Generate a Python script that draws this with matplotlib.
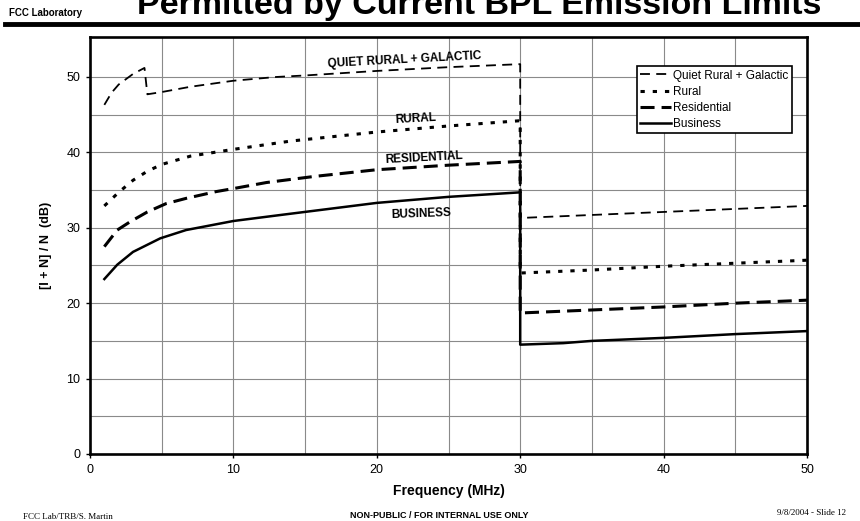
import matplotlib
matplotlib.use("Agg")
import matplotlib.pyplot as plt
from matplotlib.lines import Line2D

plt.rcParams['font.family'] = ['Liberation Sans', 'DejaVu Sans']

# values (frequency in MHz, [I+N]/N in dB)
quiet_f = [1, 1.5, 2, 3, 3.8, 4, 5, 7, 10, 13, 15, 20, 25, 30, 30, 35, 40, 45, 50]
quiet_db = [46.3, 47.9, 49.0, 50.4, 51.2, 47.7, 48.0, 48.7, 49.5, 50.0, 50.2, 50.8, 51.3, 51.7,
            31.3, 31.7, 32.1, 32.5, 32.9]

rural_f = [1, 2, 3, 4, 5, 7, 10, 14, 20, 25, 30, 30, 35, 40, 45, 50]
rural_db = [32.9, 34.7, 36.3, 37.5, 38.4, 39.5, 40.4, 41.5, 42.7, 43.5, 44.2,
            24.0, 24.4, 24.9, 25.3, 25.7]

resid_f = [1, 1.9, 2.8, 4, 5.3, 6.7, 8.8, 10, 12.3, 15.6, 20, 25, 30, 30, 35, 40, 45, 50]
resid_db = [27.5, 29.7, 30.8, 32.1, 33.2, 33.9, 34.8, 35.2, 36.0, 36.8, 37.7, 38.3, 38.8,
            18.7, 19.1, 19.5, 20.0, 20.4]

bus_f = [1, 1.9, 3, 4.9, 6.7, 10, 13.3, 20, 25, 30, 30, 33, 35, 40, 45, 50]
bus_db = [23.2, 25.1, 26.8, 28.6, 29.7, 30.9, 31.7, 33.3, 34.1, 34.7,
          14.5, 14.7, 15.0, 15.4, 15.9, 16.3]

series_names = ["Quiet Rural + Galactic", "Rural", "Residential", "Business"]
curve_labels = ["QUIET RURAL + GALACTIC", "RURAL", "RESIDENTIAL", "BUSINESS"]

fig = plt.figure(figsize=(8.6, 5.21), dpi=100)
ax = fig.add_axes([90 / 860, 1 - 454 / 521, 717 / 860, 417 / 521])

l1, = ax.plot(quiet_f, quiet_db, color='black', lw=1.3, label=series_names[0])
l1.set_dashes((5.5, 3.5))
l2, = ax.plot(rural_f, rural_db, color='black', lw=2.2, label=series_names[1])
l2.set_dashes((1.4, 2.6))
l3, = ax.plot(resid_f, resid_db, color='black', lw=2.2, label=series_names[2])
l3.set_dashes((4.6, 2.3))
l4, = ax.plot(bus_f, bus_db, color='black', lw=1.8, label=series_names[3])

ax.set_xlim(0, 50)
ax.set_ylim(0, 55.3)
ax.set_xticks([0, 10, 20, 30, 40, 50])
ax.set_yticks([0, 10, 20, 30, 40, 50])
ax.set_xticks(range(5, 50, 5), minor=True)
ax.set_yticks(range(5, 55, 5), minor=True)
ax.grid(True, which='both', color='#8a8a8a', lw=0.8)
ax.set_axisbelow(True)
ax.tick_params(which='major', direction='out', length=3, width=1, pad=4, labelsize=9)
ax.tick_params(which='minor', length=0)
for s in ax.spines.values():
    s.set_linewidth(1.9)

ax.set_xlabel("Frequency (MHz)", fontsize=10, fontweight='bold', labelpad=6)
ax.set_ylabel("[I + N] / N  (dB)", fontsize=9, fontweight='bold', labelpad=10)

# curve labels
ax.text(21.9, 52.2, curve_labels[0], fontsize=8.5, fontweight='bold', ha='center', va='center', rotation=3)
ax.text(22.7, 44.4, curve_labels[1], fontsize=8.5, fontweight='bold', ha='center', va='center', rotation=3)
ax.text(23.3, 39.3, curve_labels[2], fontsize=8.5, fontweight='bold', ha='center', va='center', rotation=3)
ax.text(23.1, 31.8, curve_labels[3], fontsize=8.5, fontweight='bold', ha='center', va='center', rotation=2)

leg = ax.legend(loc='upper right', bbox_to_anchor=(792 / 860, 1 - 66 / 521), bbox_transform=fig.transFigure,
                fontsize=8.5, handlelength=2.6, handletextpad=0.2, labelspacing=0.35,
                borderpad=0.3, borderaxespad=0, fancybox=False, framealpha=1)
leg.get_frame().set_edgecolor('black')
leg.get_frame().set_linewidth(1.2)

# slide header and footer (title is cut off at the top in the original slide)
fig.text(137 / 860, 1 - 14 / 521, "Permitted by Current BPL Emission Limits", fontsize=24.5,
         fontweight='bold', ha='left', va='baseline')
fig.text(9 / 860, 1 - 13 / 521, "FCC Laboratory", fontsize=7, fontweight='bold', ha='left', va='center')
fig.add_artist(Line2D([5 / 860, 1], [1 - 23.5 / 521, 1 - 23.5 / 521], color='black', lw=3.5,
                      transform=fig.transFigure))
fig.text(23 / 860, 1 - 517 / 521, "FCC Lab/TRB/S. Martin", fontsize=6.5, family=['Liberation Serif'],
         ha='left', va='center')
fig.text(439 / 860, 1 - 515 / 521, "NON-PUBLIC / FOR INTERNAL USE ONLY", fontsize=6.5, fontweight='bold',
         ha='center', va='center')
fig.text(777 / 860, 1 - 513 / 521, "9/8/2004 - Slide 12", fontsize=6.5, family=['Liberation Serif'],
         ha='left', va='center')

fig.savefig("out.png", dpi=100)
